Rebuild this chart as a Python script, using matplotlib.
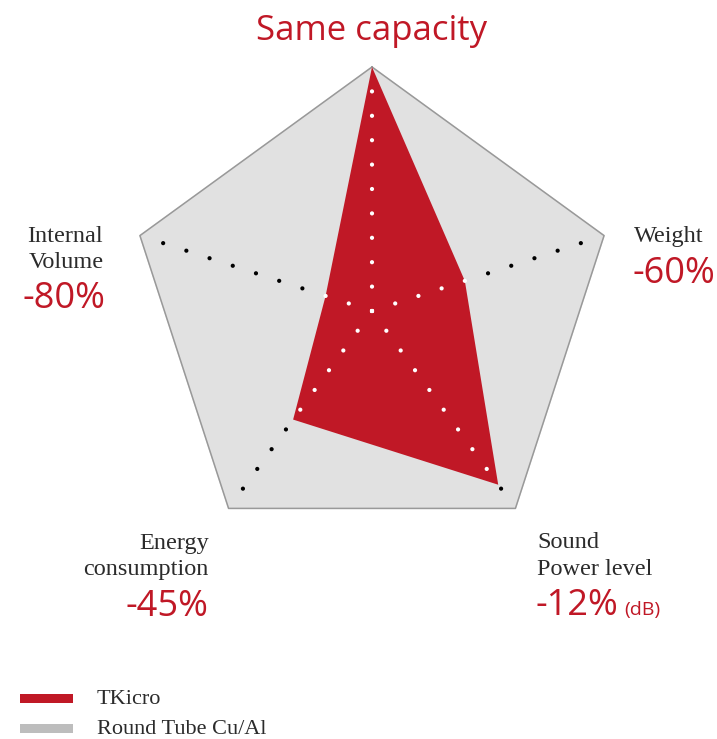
import matplotlib
matplotlib.use("Agg")
import matplotlib.pyplot as plt
from matplotlib.path import Path
from matplotlib.patches import Rectangle
import numpy as np

# axes, clockwise from the top
axes_names = ["Same capacity", "Weight", "Sound Power level", "Energy consumption", "Internal Volume"]
round_tube = [100, 100, 100, 100, 100]
tkicro = [100, 40, 88, 55, 20]
ring_steps = [0, 10, 20, 30, 40, 50, 60, 70, 80, 90]

RED = "#c01826"
GREY_FILL = "#e1e1e1"
SANS = "Open Sans"
SERIF = "Liberation Serif"

W, H = 717, 739
CX, CY, R = 372, 311, 244   # centre and radius in pixels
scale = R / 100.0

fig = plt.figure(figsize=(W / 100, H / 100), dpi=100)
ax = fig.add_axes([0, 0, 1, 1])
ax.set_xlim(-CX / scale, (W - CX) / scale)
ax.set_ylim((CY - H) / scale, CY / scale)
ax.set_aspect("equal")
ax.axis("off")


def px(x, y):
    # pixel position (from top-left) -> data coords, for placing text
    return (x - CX) / scale, (CY - y) / scale


n = len(axes_names)
angles = np.pi / 2 - np.arange(n) * 2 * np.pi / n


def to_xy(vals):
    vals = np.asarray(vals, dtype=float)
    return vals * np.cos(angles), vals * np.sin(angles)


ox, oy = to_xy(round_tube)
ax.fill(ox, oy, color=GREY_FILL, zorder=1)
ax.plot(np.append(ox, ox[0]), np.append(oy, oy[0]), color="#999999", lw=1.1, zorder=2)

tx, ty = to_xy(tkicro)
ax.fill(tx, ty, color=RED, zorder=3, lw=0)

# dotted spokes: white inside the red shape, black outside
red_path = Path(np.column_stack([tx, ty]))
for a in angles:
    s = np.array(ring_steps, dtype=float)
    pts = np.column_stack([s * np.cos(a), s * np.sin(a)])
    inside = red_path.contains_points(pts, radius=1.0) | \
        red_path.contains_points(pts, radius=-1.0)
    cols = ["white" if i else "black" for i in inside]
    ax.scatter(pts[:, 0], pts[:, 1], s=9, c=cols, zorder=4, linewidths=0)

# title / labels
ax.text(*px(372, 40), "Same capacity", color=RED, fontsize=25, family=SANS,
        ha="center", va="baseline")

lab = dict(color="#2b2b2b", fontsize=17.5, family=SERIF, va="baseline")
pct = dict(color=RED, fontsize=26, family=SANS, va="baseline")

ax.text(*px(65, 242), "Internal", ha="center", **lab)
ax.text(*px(66, 268), "Volume", ha="center", **lab)
ax.text(*px(64, 308), "-80%", ha="center", **pct)

ax.text(*px(634, 242), "Weight", ha="left", **lab)
ax.text(*px(633, 283), "-60%", ha="left", **pct)

ax.text(*px(209, 549), "Energy", ha="right", **lab)
ax.text(*px(209, 575), "consumption", ha="right", **lab)
ax.text(*px(208, 616), "-45%", ha="right", **pct)

ax.text(*px(537, 548), "Sound", ha="left", **lab)
ax.text(*px(537, 575), "Power level", ha="left", **lab)
ax.text(*px(536, 615), "-12%", ha="left", **pct)
ax.text(*px(624, 615), "(dB)", ha="left", color=RED, fontsize=14, family=SANS, va="baseline")

# legend
for (y0, col, name) in [(694, RED, "TKicro"), (724, "#bdbdbd", "Round Tube Cu/Al")]:
    x0, yb = px(20, y0 + 9)
    x1, yt = px(73, y0)
    ax.add_patch(Rectangle((x0, yb), x1 - x0, yt - yb, color=col, lw=0, clip_on=False))
    ax.text(*px(97, y0 + 10), name, color="#2b2b2b", fontsize=16, family=SERIF,
            ha="left", va="baseline")

fig.savefig("out.png", dpi=100)
